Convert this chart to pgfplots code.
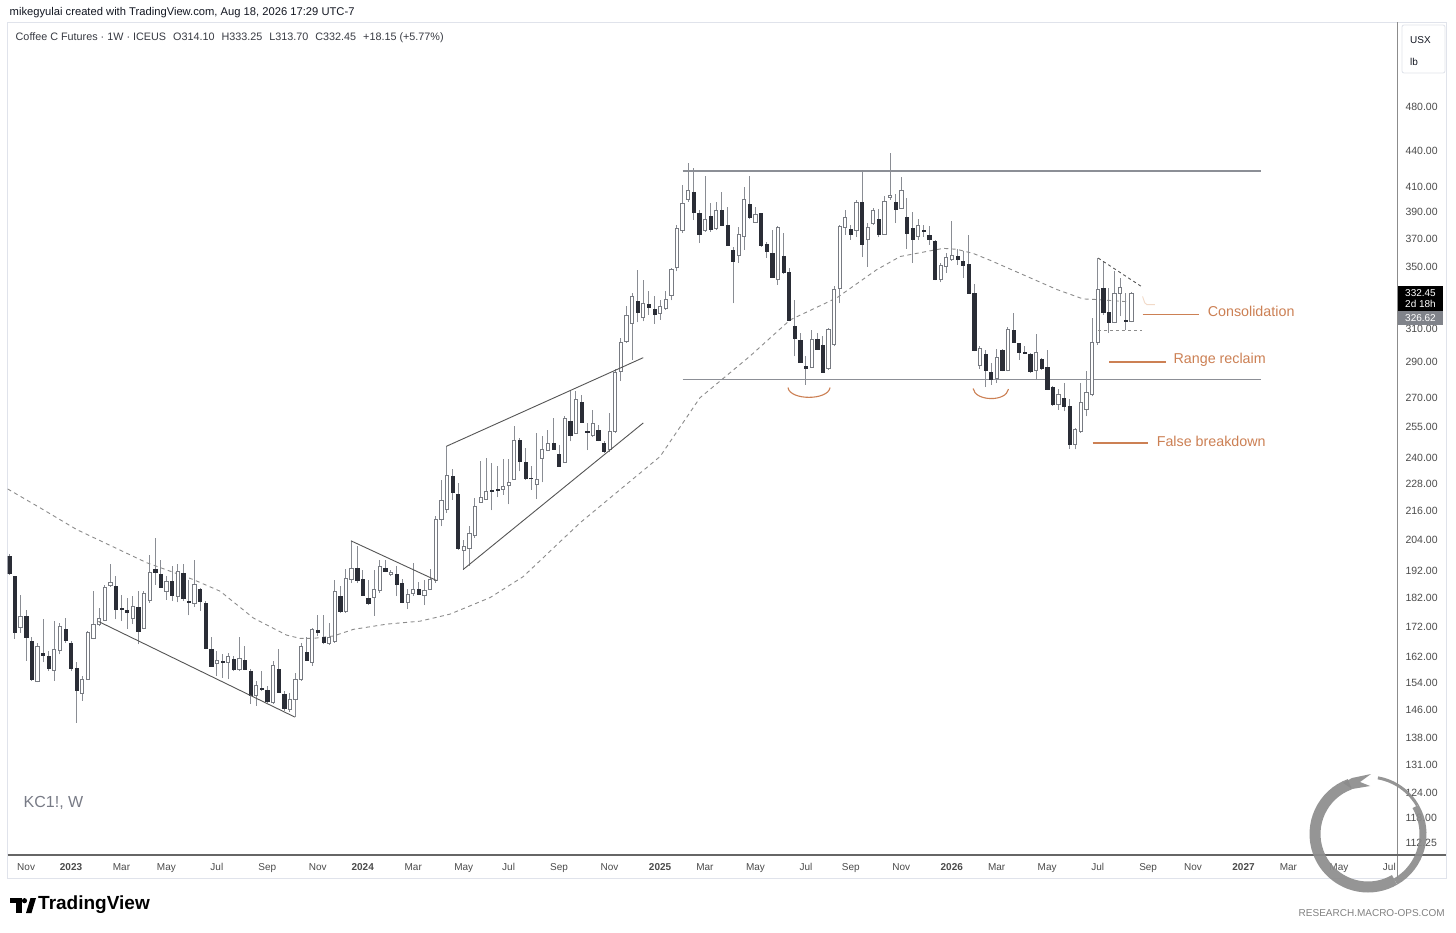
\documentclass[border=0pt]{standalone}
\usepackage{pgfplots}
\pgfplotsset{compat=1.18}
\usepackage{pgfplotstable}
\usepackage{fontspec}
\setmainfont{Liberation Sans}
\definecolor{wickc}{RGB}{138,141,148}
\definecolor{darkc}{RGB}{42,45,54}
\definecolor{outc}{RGB}{120,123,130}
\definecolor{orng}{RGB}{204,128,84}
\definecolor{lorng}{RGB}{242,218,200}
\definecolor{ltgray}{RGB}{224,227,235}
\definecolor{tickc}{RGB}{75,75,75}
\definecolor{headc}{RGB}{19,23,34}
\definecolor{subc}{RGB}{55,58,66}
\definecolor{kcc}{RGB}{120,123,134}
\definecolor{mac}{RGB}{140,140,140}
\definecolor{trendc}{RGB}{85,85,85}
\definecolor{hlinec}{RGB}{140,143,150}
\definecolor{ringc}{RGB}{140,140,140}
\definecolor{lblgray}{RGB}{128,131,138}

\pgfplotstableread{
i O H L C
1 197.7 198.5 190.7 191.3
2 190.0 190.3 168.0 170.0
3 171.7 183.3 170.0 175.7
4 175.7 177.8 160.8 168.4
5 167.0 168.4 154.6 155.1
6 154.4 166.7 154.1 165.4
7 163.2 174.5 160.3 162.7
8 162.4 164.0 157.6 158.4
9 157.9 173.9 154.6 164.5
10 164.3 173.4 162.9 172.2
11 171.1 175.1 166.7 167.4
12 166.4 167.2 157.6 158.4
13 158.4 160.3 142.3 151.8
14 150.7 156.1 148.6 154.9
15 155.1 170.5 154.9 170.0
16 168.0 184.5 167.8 172.9
17 172.7 178.6 172.2 174.8
18 174.2 186.9 173.9 185.8
19 186.6 194.5 186.1 187.8
20 186.4 190.0 174.5 178.1
21 178.4 183.3 173.9 178.1
22 177.8 182.2 171.4 176.9
23 174.8 182.7 172.9 179.2
24 178.6 184.5 166.1 170.5
25 171.3 184.5 171.1 183.7
26 181.3 198.4 180.3 191.5
27 192.6 205.0 186.9 191.5
28 190.9 196.2 185.8 186.1
29 184.5 190.0 181.5 188.2
30 188.2 193.9 180.9 183.0
31 182.7 194.5 180.5 191.9
32 191.0 194.5 180.9 181.8
33 180.9 188.8 175.9 180.5
34 180.1 196.2 179.0 186.9
35 185.1 185.8 177.5 180.9
36 180.1 180.9 164.5 165.0
37 164.5 168.4 159.0 159.2
38 160.1 164.0 156.1 160.8
39 160.8 162.9 155.6 160.3
40 160.3 163.4 155.1 162.1
41 161.3 162.4 157.6 158.1
42 158.1 168.4 157.6 161.5
43 161.1 165.6 157.9 158.1
44 157.6 158.1 147.6 150.1
45 150.1 154.6 147.1 153.2
46 152.4 157.6 151.5 152.0
47 151.7 153.0 148.1 148.6
48 148.1 160.8 147.6 159.4
49 158.1 164.7 151.0 151.2
50 150.5 151.5 145.7 146.4
51 146.2 151.0 145.4 148.9
52 148.9 157.1 143.8 155.1
53 155.1 166.7 154.6 165.4
54 163.4 168.4 160.8 161.1
55 160.3 171.7 159.2 171.1
56 170.7 175.9 168.9 170.3
57 168.4 176.2 166.1 166.9
58 166.3 173.4 166.0 168.4
59 167.2 188.8 166.7 184.5
60 182.7 186.4 176.9 177.5
61 177.2 192.9 176.9 189.1
62 188.8 203.7 187.5 192.9
63 192.9 201.6 187.5 188.6
64 188.8 192.6 182.7 183.0
65 181.8 188.8 179.5 180.1
66 182.2 192.6 175.7 185.1
67 184.8 196.4 184.0 193.9
68 192.9 196.4 191.5 191.9
69 190.9 192.6 190.0 191.6
70 190.7 193.9 182.7 186.9
71 187.5 189.1 180.1 180.5
72 180.5 185.3 178.1 183.3
73 183.7 195.2 182.7 185.1
74 185.1 187.8 183.0 183.3
75 183.0 188.8 179.5 184.9
76 185.3 192.9 185.1 188.8
77 188.4 213.9 187.6 212.5
78 212.5 230.0 209.7 220.7
79 217.0 245.6 215.4 231.9
80 231.6 234.7 221.0 224.3
81 223.3 228.5 200.3 201.0
82 200.0 204.3 192.6 201.4
83 200.6 209.7 193.9 206.8
84 206.0 221.7 205.0 218.2
85 219.9 238.5 219.6 222.1
86 221.3 240.1 221.0 224.8
87 225.2 237.8 216.4 224.9
88 225.5 236.1 222.1 225.2
89 225.5 239.4 223.3 226.7
90 227.2 239.4 219.0 228.7
91 230.3 255.5 230.0 248.5
92 248.5 249.7 233.8 238.5
93 238.0 244.7 230.0 230.8
94 230.8 236.1 225.5 230.4
95 227.8 252.4 221.3 230.3
96 239.7 250.5 228.7 244.1
97 243.8 253.7 243.3 247.2
98 246.9 259.7 244.1 244.4
99 242.0 246.4 235.8 236.1
100 238.0 260.9 237.8 259.7
101 258.0 274.7 248.0 250.8
102 252.1 273.7 251.8 269.3
103 267.9 271.9 257.2 257.5
104 252.9 257.2 243.8 252.6
105 250.8 264.0 250.2 257.2
106 253.7 256.4 248.0 248.5
107 247.2 248.0 242.4 243.3
108 244.1 262.4 242.8 253.1
109 253.1 285.9 252.4 284.0
110 285.0 304.4 279.3 301.8
111 302.4 323.8 301.4 317.8
112 313.3 332.5 291.4 330.2
113 327.0 348.1 313.7 319.9
114 317.1 341.3 314.3 325.5
115 324.9 333.6 318.6 323.4
116 322.2 330.2 312.8 319.1
117 319.1 327.6 315.3 323.8
118 322.8 333.6 321.7 328.5
119 330.7 349.4 327.6 348.1
120 349.4 380.3 347.0 377.8
121 376.0 411.2 374.1 397.0
122 400.1 430.0 398.2 407.2
123 405.9 425.1 384.1 389.7
124 389.2 391.7 366.8 373.6
125 376.5 418.6 375.3 384.6
126 387.1 397.0 375.3 377.0
127 377.8 398.2 376.5 391.2
128 391.7 405.9 379.5 380.3
129 380.3 393.8 364.9 365.6
130 362.0 364.4 325.8 354.0
131 357.8 378.5 352.8 372.9
132 371.6 409.9 362.0 400.1
133 396.5 418.6 384.6 385.8
134 382.4 394.3 381.6 388.0
135 388.8 389.2 364.4 365.6
136 366.3 368.0 356.2 360.9
137 359.3 376.5 342.5 342.9
138 341.3 379.5 338.0 378.5
139 357.8 374.1 345.3 346.2
140 346.2 349.4 314.3 314.9
141 311.6 328.0 293.4 303.8
142 302.8 307.2 289.7 290.0
143 287.6 293.4 277.3 286.8
144 287.2 309.2 286.6 303.6
145 303.6 307.2 297.2 297.6
146 300.0 305.2 284.0 284.4
147 286.6 310.2 285.7 309.6
148 300.2 336.8 299.2 334.8
149 335.3 380.3 325.8 379.0
150 378.5 391.7 372.9 386.1
151 377.2 380.3 369.3 373.6
152 376.5 399.6 371.2 397.5
153 397.5 423.6 356.9 366.3
154 369.3 381.6 350.3 378.5
155 381.6 393.0 380.3 391.0
156 384.9 392.3 371.2 373.6
157 373.6 402.5 372.9 398.2
158 401.7 438.0 399.6 403.3
159 397.5 403.9 381.6 392.3
160 393.0 418.0 392.3 407.2
161 385.8 401.2 362.7 374.1
162 377.8 390.4 352.8 369.8
163 372.1 384.6 369.3 380.3
164 376.5 380.3 371.2 375.3
165 372.9 379.5 365.6 369.8
166 368.0 369.3 340.8 341.3
167 341.3 352.8 339.5 350.8
168 350.3 359.8 346.2 356.9
169 355.0 383.5 354.5 357.8
170 357.8 362.7 351.5 355.7
171 354.0 361.5 342.5 351.5
172 352.0 372.9 332.0 332.5
173 332.0 338.7 296.2 297.2
174 288.0 299.2 286.0 298.2
175 294.8 297.2 276.1 285.7
176 284.4 289.7 277.3 280.6
177 280.6 297.6 278.3 292.8
178 297.2 297.6 284.8 285.3
179 285.3 310.8 284.8 309.6
180 308.8 319.5 301.4 301.8
181 300.8 301.4 291.4 296.0
182 296.0 299.2 294.8 295.4
183 294.6 295.4 284.0 284.8
184 285.3 306.8 280.0 295.4
185 291.8 292.4 285.7 286.6
186 287.0 297.2 274.7 275.0
187 276.0 276.5 266.2 266.7
188 267.0 275.0 264.0 272.3
189 270.2 278.3 263.2 265.8
190 265.8 269.6 244.3 246.4
191 246.4 254.9 244.1 253.7
192 253.1 278.3 252.4 267.6
193 264.4 284.8 260.6 273.2
194 271.9 316.4 271.1 301.4
195 301.4 356.2 300.2 334.8
196 335.3 354.0 318.6 319.9
197 319.9 336.0 307.2 313.7
198 313.7 347.0 313.3 332.5
199 332.5 342.5 317.5 336.0
200 314.9 332.5 309.2 314.5
201 314.10 333.25 313.70 332.45
}\ohlc

\pgfplotsset{
  wick/.style={draw=wickc, line width=0.9pt, mark=none},
  darkbody/.style={draw=darkc, fill=darkc, line width=0.5pt, mark=none},
  whitebody/.style={draw=outc, fill=white, line width=0.8pt, mark=none},
  trend/.style={draw=trendc, line width=0.9pt, mark=none},
  hline/.style={draw=hlinec, line width=1.4pt, mark=none},
}

\begin{document}
\begin{tikzpicture}[x=1pt,y=1pt]
\path[use as bounding box, fill=white] (0,0) rectangle (1456,932);
\draw[ltgray, line width=0.8pt] (7.5,54) rectangle (1446,909.5);

\begin{axis}[
  at={(7.5pt,77pt)}, anchor=south west,
  width=1390pt, height=832.5pt, scale only axis,
  xmin=0.679, xmax=248.45,
  ymode=log, ymin=109.6, ymax=567.2,
  axis line style={draw=none},
  major tick length=0pt, minor tick num=0,
  clip=true,
  ytick pos=right, yticklabel pos=right,
  ytick={112.25,118,124,131,138,146,154,162,172,182,192,204,216,228,240,255,270,290,310,350,370,390,410,440,480},
  yticklabels={112.25,118.00,124.00,131.00,138.00,146.00,154.00,162.00,172.00,182.00,192.00,204.00,216.00,228.00,240.00,255.00,270.00,290.00,310.00,350.00,370.00,390.00,410.00,440.00,480.00},
  yticklabel style={anchor=west, xshift=4.5pt, font=\fontsize{10.5}{12}\selectfont, text=tickc},
  xtick={4,12,21,29,38,47,56,64,73,82,90,99,108,117,125,134,143,151,160,169,177,186,195,204,212,221,229,238,247},
  xticklabels={Nov,\textbf{2023},Mar,May,Jul,Sep,Nov,\textbf{2024},Mar,May,Jul,Sep,Nov,\textbf{2025},Mar,May,Jul,Sep,Nov,\textbf{2026},Mar,May,Jul,Sep,Nov,\textbf{2027},Mar,May,Jul},
  xticklabel style={anchor=base, yshift=-15.6pt, font=\fontsize{10}{12}\selectfont, text=tickc},
]
% moving average
\addplot[draw=mac, line width=0.9pt, dash pattern=on 4pt off 3.5pt, mark=none] coordinates {
(0.7,225.8) (7,216.8) (13.0,208.4) (25.5,195.2) (33.8,188.8) (38.6,184.5) (44.5,175.0) (50.4,169.2) (52.8,168.1) (55.2,168.1) (58.8,168.9) (62.3,171.1) (68.3,172.9) (74.2,173.9) (79.5,176.3) (86.7,182.2) (92.6,189.9) (102.7,211.1) (111.7,229.3) (117,240.7) (124.1,270.3) (133.0,293.4) (140.2,315.3) (148.5,329.3) (155.6,348.1) (159.8,357.3) (162.7,359.5) (167.5,363.1) (169.9,362.4) (172.8,359.5) (175.8,354.7) (181.7,344.7) (187.7,334.8) (192.4,328.6) (194.8,328.2) (201,326.6)};

% horizontal range lines
\addplot[hline] coordinates {(121.0,423.0) (224.1,423.0)};
\addplot[hline] coordinates {(121.0,280.2) (224.1,280.2)};

% candles
\pgfplotstablegetrowsof{\ohlc}
\pgfmathtruncatemacro{\lastrow}{\pgfplotsretval-1}
\pgfplotsforeachungrouped \rowi in {0,...,\lastrow}{%
  \pgfplotstablegetelem{\rowi}{i}\of\ohlc \edef\ci{\pgfplotsretval}%
  \pgfplotstablegetelem{\rowi}{O}\of\ohlc \edef\co{\pgfplotsretval}%
  \pgfplotstablegetelem{\rowi}{H}\of\ohlc \edef\ch{\pgfplotsretval}%
  \pgfplotstablegetelem{\rowi}{L}\of\ohlc \edef\cl{\pgfplotsretval}%
  \pgfplotstablegetelem{\rowi}{C}\of\ohlc \edef\cc{\pgfplotsretval}%
  \pgfmathsetmacro{\xa}{\ci-0.29}%
  \pgfmathsetmacro{\xb}{\ci+0.29}%
  \ifdim\cc pt<\co pt \def\bst{darkbody}\else\def\bst{whitebody}\fi
  \edef\tmp{%
    \noexpand\addplot[wick] coordinates {(\ci,\cl) (\ci,\ch)};
    \noexpand\addplot[\bst] coordinates {(\xa,\co) (\xb,\co) (\xb,\cc) (\xa,\cc)} -- cycle;
  }\tmp
}

% trend lines
\addplot[trend] coordinates {(16.9,173.8) (51.9,143.9)};
\addplot[trend] coordinates {(61.9,203.8) (77.2,188.4)};
\addplot[trend] coordinates {(78.9,245.6) (114.0,292.6)};
\addplot[trend] coordinates {(81.9,192.6) (114.0,257.2)};
% consolidation box
\addplot[draw=trendc, line width=0.9pt, dash pattern=on 3pt off 3pt, mark=none] coordinates {(195.1,356.2) (202.9,336.5)};
\addplot[draw=mac, line width=0.9pt, dash pattern=on 3pt off 3pt, mark=none] coordinates {(195.1,308.5) (202.9,308.5)};

% orange annotations
\draw[lorng, line width=0.9pt] (axis cs:203.0,330.2) -- (axis cs:203.4,326.0) -- (axis cs:203.8,324.9) -- (axis cs:205.2,324.9);
\draw[orng, line width=1.3pt] (axis cs:203.0,318.8) -- (axis cs:213.1,318.8);
\draw[orng, line width=1.3pt] (axis cs:197.1,290.1) -- (axis cs:207.2,290.1);
\draw[orng, line width=1.3pt] (axis cs:194.1,247.2) -- (axis cs:204.0,247.2);
\node[anchor=base west, inner sep=0pt, text=orng, font=\fontsize{14.3}{16}\selectfont] at (axis cs:214.6,317.4) {Consolidation};
\node[anchor=base west, inner sep=0pt, text=orng, font=\fontsize{14.3}{16}\selectfont] at (axis cs:208.5,289.0) {Range reclaim};
\node[anchor=base west, inner sep=0pt, text=orng, font=\fontsize{14.3}{16}\selectfont] at (axis cs:205.5,245.4) {False breakdown};
\draw[orng, line width=1.1pt] (axis cs:139.8,275.8) .. controls +(2pt,-13pt) and +(-2pt,-13pt) .. (axis cs:147.3,275.8);
\draw[orng, line width=1.1pt] (axis cs:172.8,275.3) .. controls +(2pt,-13pt) and +(-2pt,-13pt) .. (axis cs:179.1,275.0);
\end{axis}

% panel separators
\draw[color=mac, line width=1pt] (1397.5,54) -- (1397.5,909.5);
\draw[color=trendc!90, line width=1.2pt] (7.5,77) -- (1446,77);

% header texts
\node[anchor=west, inner sep=0pt, text=headc, font=\fontsize{11.2}{13}\selectfont] at (9.5,919) {mikegyulai created with TradingView.com, Aug 18, 2026 17:29 UTC-7};
\node[anchor=west, inner sep=0pt, text=subc, font=\fontsize{10.8}{12}\selectfont] at (15.5,894) {Coffee C Futures · 1W · ICEUS\hspace{7pt}O314.10\hspace{7pt}H333.25\hspace{7pt}L313.70\hspace{7pt}C332.45\hspace{7pt}+18.15 (+5.77\%)};

% price scale box
\draw[ltgray, line width=0.8pt, rounded corners=2pt] (1402,859) rectangle (1445,907);
\node[anchor=west, inner sep=0pt, text=headc, font=\fontsize{10}{12}\selectfont] at (1410,892) {USX};
\node[anchor=west, inner sep=0pt, text=headc, font=\fontsize{10}{12}\selectfont] at (1410,870) {lb};

% last price labels
\fill[black] (1398,621) rectangle (1443,646);
\node[text=white, inner sep=0pt, font=\fontsize{10}{12}\selectfont] at (1420.5,639) {332.45};
\node[text=white, inner sep=0pt, font=\fontsize{10}{12}\selectfont] at (1420.5,628) {2d 18h};
\fill[lblgray] (1398,607) rectangle (1443,620.5);
\node[text=white, inner sep=0pt, font=\fontsize{10}{12}\selectfont] at (1420.5,614) {326.62};

% symbol
\node[anchor=west, inner sep=0pt, text=kcc, font=\fontsize{16}{18}\selectfont] at (23.5,129) {KC1!, W};

% TradingView logo
\fill[black] (10,29) rectangle (21.5,34);
\fill[black] (15.5,19) rectangle (21.5,34);
\fill[black] (24.5,31.3) circle[radius=2.6];
\fill[black] (26,19) -- (31.5,19) -- (36,34) -- (30.5,34) -- cycle;
\node[anchor=west, inner sep=0pt, font=\bfseries\fontsize{19}{21}\selectfont] at (38,27) {TradingView};
\node[anchor=east, inner sep=0pt, text=mac!110, font=\fontsize{10}{12}\selectfont] at (1445,19) {RESEARCH.MACRO-OPS.COM};

% ring logo
\begin{scope}[opacity=0.92]
\draw[ringc, line width=11pt] (1368,98) ++(110:53) arc[start angle=110, end angle=300, radius=53];
\draw[ringc, line width=7pt] (1368,98) ++(300:55) arc[start angle=300, end angle=390, radius=55];
\draw[ringc, line width=3pt] (1368,98) ++(390:57) arc[start angle=390, end angle=440, radius=57];
\fill[ringc] (1343,149) -- (1352,154) -- (1371,158) -- (1360,150) -- (1370,146) -- (1352,143) -- cycle;
\end{scope}
\end{tikzpicture}
\end{document}
